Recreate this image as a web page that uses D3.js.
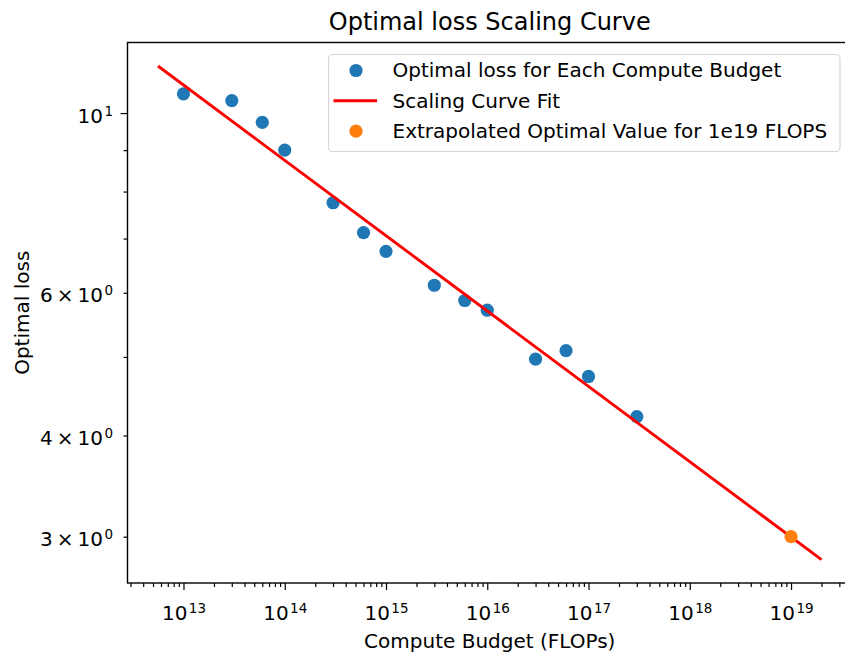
<!DOCTYPE html>
<html>
<head>
<meta charset="utf-8">
<script src="https://cdn.jsdelivr.net/npm/d3@7"></script>
<style>
  body { margin: 0; background: #ffffff; }
  svg { display: block; }
  text { font-family: "DejaVu Sans", sans-serif; fill: #000; }
</style>
</head>
<body>
<svg id="chart" width="845" height="656"></svg>
<script>
// ---------------- DATA ----------------
const computeBudgets = [1e13, 3e13, 6e13, 1e14, 3e14, 6e14, 1e15, 3e15, 6e15, 1e16, 3e16, 6e16, 1e17, 3e17];
const optimalLoss    = [10.56, 10.36, 9.74, 9.00, 7.75, 7.12, 6.75, 6.13, 5.87, 5.71, 4.97, 5.09, 4.73, 4.22];

const extrapolatedBudget = [1e19];
const extrapolatedLoss   = [3.0];

const fitBudgets = [5.6e12, 2e19];
const fitLoss    = [11.43, 2.81];

const xDomain = [2.8e12, 4.0e19];
const yDomain = [2.63, 12.22];

const xMajorTicks     = [1e13, 1e14, 1e15, 1e16, 1e17, 1e18, 1e19];
const xMajorExponents = ["13", "14", "15", "16", "17", "18", "19"];

const yLabeledTicks   = [3, 4, 6, 10];
const yTickMantissas  = ["3", "4", "6", ""];
const yTickExponents  = ["0", "0", "0", "1"];

const legendLabels = [
  "Optimal loss for Each Compute Budget",
  "Scaling Curve Fit",
  "Extrapolated Optimal Value for 1e19 FLOPS"
];
const titleText  = "Optimal loss Scaling Curve";
const xLabelText = "Compute Budget (FLOPs)";
const yLabelText = "Optimal loss";

// ---------------- LAYOUT ----------------
const plot = { left: 127.5, top: 42.5, right: 852, bottom: 583 };
const blue = "#1f77b4", orange = "#ff7f0e", red = "#ff0000";

const svg = d3.select("#chart");

const x = d3.scaleLog().domain(xDomain).range([plot.left, plot.right]);
const y = d3.scaleLog().domain(yDomain).range([plot.bottom, plot.top]);

svg.append("defs").append("clipPath").attr("id", "clip")
  .append("rect")
  .attr("x", plot.left).attr("y", plot.top)
  .attr("width", plot.right - plot.left).attr("height", plot.bottom - plot.top);

// ---------------- AXES ----------------
const isMajor = v => Math.abs(Math.log10(v) - Math.round(Math.log10(v))) < 1e-9;
const xAll = x.ticks();
const xMinor = xAll.filter(v => !isMajor(v));
const yAll = y.ticks();
const yMinor = yAll.filter(v => !isMajor(v));
const yMajor = yAll.filter(v => isMajor(v));

function styleAxis(g) {
  g.select(".domain").remove();
  g.selectAll(".tick line").attr("stroke", "#000").attr("stroke-width", 1.2);
}

svg.append("g").attr("transform", `translate(0,${plot.bottom})`)
  .call(d3.axisBottom(x).tickValues(xMinor).tickSize(4).tickSizeOuter(0).tickFormat(""))
  .call(styleAxis);
const xMajG = svg.append("g").attr("transform", `translate(0,${plot.bottom})`)
  .call(d3.axisBottom(x).tickValues(xMajorTicks).tickSize(7).tickSizeOuter(0).tickFormat(""))
  .call(styleAxis);
xMajG.selectAll(".tick").each(function(d, i) {
  const t = d3.select(this).append("text")
    .attr("y", 37).attr("text-anchor", "middle")
    .style("font-size", "20px");
  t.append("tspan").text("10");
  t.append("tspan").attr("dx", 1.5).attr("dy", -7).style("font-size", "13.5px").text(xMajorExponents[i]);
});

svg.append("g").attr("transform", `translate(${plot.left},0)`)
  .call(d3.axisLeft(y).tickValues(yMinor).tickSize(4).tickSizeOuter(0).tickFormat(""))
  .call(styleAxis);
svg.append("g").attr("transform", `translate(${plot.left},0)`)
  .call(d3.axisLeft(y).tickValues(yMajor).tickSize(7).tickSizeOuter(0).tickFormat(""))
  .call(styleAxis);

const yLab = svg.append("g");
yLabeledTicks.forEach((v, i) => {
  const t = yLab.append("text")
    .attr("x", plot.left - 14.5).attr("y", y(v) + 9.5)
    .attr("text-anchor", "end").style("font-size", "20px");
  const m = yTickMantissas[i];
  t.append("tspan").text(m ? m + "\u2009\u00d7\u200910" : "10");
  t.append("tspan").attr("dx", 1.5).attr("dy", -7).style("font-size", "13.5px").text(yTickExponents[i]);
});

// frame
svg.append("rect")
  .attr("x", plot.left).attr("y", plot.top)
  .attr("width", plot.right - plot.left).attr("height", plot.bottom - plot.top)
  .attr("fill", "none").attr("stroke", "#000").attr("stroke-width", 1.4);

// ---------------- MARKS ----------------
const marks = svg.append("g").attr("clip-path", "url(#clip)");

marks.selectAll("circle.obs")
  .data(computeBudgets.map((c, i) => ({ c, l: optimalLoss[i] })))
  .join("circle").attr("class", "obs")
  .attr("cx", d => x(d.c)).attr("cy", d => y(d.l)).attr("r", 6.6)
  .attr("fill", blue);

const line = d3.line().x(d => x(d.c)).y(d => y(d.l));
marks.append("path")
  .datum(fitBudgets.map((c, i) => ({ c, l: fitLoss[i] })))
  .attr("d", line).attr("fill", "none")
  .attr("stroke", red).attr("stroke-width", 2.9);

marks.selectAll("circle.ext")
  .data(extrapolatedBudget.map((c, i) => ({ c, l: extrapolatedLoss[i] })))
  .join("circle").attr("class", "ext")
  .attr("cx", d => x(d.c)).attr("cy", d => y(d.l)).attr("r", 6.6)
  .attr("fill", orange);

// ---------------- TEXT ----------------
svg.append("text").attr("x", (plot.left + plot.right) / 2).attr("y", 30)
  .attr("text-anchor", "middle").style("font-size", "24px").text(titleText);

svg.append("text").attr("x", (plot.left + plot.right) / 2).attr("y", 648)
  .attr("text-anchor", "middle").style("font-size", "20px").text(xLabelText);

svg.append("text")
  .attr("transform", `translate(28.5,${(plot.top + plot.bottom) / 2}) rotate(-90)`)
  .attr("text-anchor", "middle").style("font-size", "20px").text(yLabelText);

// ---------------- LEGEND ----------------
const lg = svg.append("g");
lg.append("rect")
  .attr("x", 328.5).attr("y", 54.5).attr("width", 511.5).attr("height", 97)
  .attr("rx", 4).attr("ry", 4)
  .attr("fill", "rgba(255,255,255,0.8)").attr("stroke", "#d6d6d6").attr("stroke-width", 1.2);

const rowBase = [77.3, 107.6, 138];
legendLabels.forEach((lab, i) => {
  const cy = rowBase[i] - 6.8;
  if (i === 1) {
    lg.append("line").attr("x1", 333.5).attr("x2", 377).attr("y1", cy).attr("y2", cy)
      .attr("stroke", red).attr("stroke-width", 2.9);
  } else {
    lg.append("circle").attr("cx", 356).attr("cy", cy).attr("r", 6.6)
      .attr("fill", i === 0 ? blue : orange);
  }
  lg.append("text").attr("x", 392.5).attr("y", rowBase[i])
    .style("font-size", "20px").text(lab);
});
</script>
</body>
</html>
